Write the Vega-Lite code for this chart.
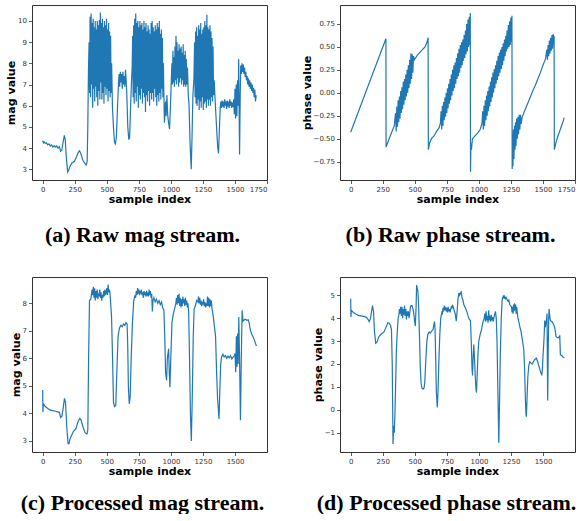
{
"$schema": "https://vega.github.io/schema/vega-lite/v6.json",
"padding": {"left": 5, "top": 4, "right": 0, "bottom": 0},
"background": "white",
"config": {
 "view": {"stroke": "#333", "strokeWidth": 1},
 "axis": {"grid": false, "domain": false, "tickColor": "#333", "tickSize": 3.5, "tickWidth": 0.8, "labelFont": "DejaVu Sans", "labelFontSize": 7, "labelColor": "#333", "labelPadding": 2, "titleFont": "DejaVu Sans", "titleFontSize": 11, "titleFontWeight": "bold", "titleColor": "black", "titlePadding": 1},
 "title": {"font": "Liberation Serif", "fontSize": 22, "fontWeight": "bold", "color": "black", "orient": "bottom", "anchor": "middle", "frame": "group"},
 "line": {"color": "#1f77b4", "strokeWidth": 1.2}
},
"datasets": {
 "a": [
{"i":0,"v":4.35},{"i":5,"v":4.25},{"i":10,"v":4.3},{"i":20,"v":4.22},{"i":30,"v":4.25},{"i":40,"v":4.15},{"i":50,"v":4.2},{"i":60,"v":4.1},{"i":70,"v":4.15},{"i":80,"v":4.05},{"i":90,"v":4.12},{"i":100,"v":4.05},{"i":110,"v":4.1},{"i":120,"v":4.0},{"i":130,"v":4.07},{"i":140,"v":3.85},{"i":150,"v":3.92},{"i":160,"v":4.3},{"i":169,"v":4.6},{"i":176,"v":4.4},{"i":184,"v":3.6},{"i":195,"v":2.87},{"i":203,"v":2.95},{"i":213,"v":3.15},{"i":228,"v":3.3},{"i":248,"v":3.38},{"i":265,"v":3.6},{"i":280,"v":3.82},{"i":288,"v":3.87},{"i":300,"v":3.7},{"i":315,"v":3.4},{"i":330,"v":3.28},{"i":339,"v":3.2},{"i":347,"v":3.35},{"i":352,"v":5.0},{"i":357,"v":7.6},
{"i":362,"v":9.0},{"i":366,"v":6.6},{"i":370,"v":10.2},{"i":374,"v":6.4},{"i":378,"v":10.35},{"i":382,"v":7.0},{"i":386,"v":9.9},{"i":390,"v":5.9},{"i":394,"v":10.1},{"i":398,"v":6.8},{"i":402,"v":9.7},{"i":406,"v":6.2},{"i":410,"v":10.0},{"i":414,"v":6.9},{"i":418,"v":9.6},{"i":422,"v":6.4},{"i":426,"v":10.0},{"i":430,"v":6.0},{"i":434,"v":9.8},{"i":438,"v":6.7},{"i":442,"v":10.05},{"i":446,"v":6.3},{"i":450,"v":10.4},{"i":454,"v":7.1},{"i":458,"v":9.9},{"i":462,"v":6.3},{"i":466,"v":10.1},{"i":470,"v":6.6},{"i":474,"v":9.7},{"i":478,"v":6.1},{"i":482,"v":10.0},{"i":486,"v":6.9},{"i":490,"v":9.8},{"i":494,"v":6.5},{"i":498,"v":10.1},{"i":502,"v":6.8},{"i":506,"v":9.6},{"i":510,"v":6.2},{"i":514,"v":9.9},{"i":518,"v":6.7},{"i":522,"v":9.5},{"i":526,"v":6.4},{"i":530,"v":9.3},{"i":534,"v":6.6},{"i":538,"v":8.0},{"i":544,"v":6.0},{"i":552,"v":5.0},{"i":560,"v":4.3},{"i":567,"v":4.2},{"i":575,"v":4.5},{"i":583,"v":5.8},{"i":591,"v":7.0},
{"i":596,"v":7.5},{"i":601,"v":6.9},{"i":606,"v":7.6},{"i":611,"v":7.1},{"i":616,"v":7.5},{"i":621,"v":6.8},{"i":626,"v":7.6},{"i":631,"v":7.0},{"i":636,"v":7.4},{"i":641,"v":6.9},{"i":646,"v":7.7},{"i":651,"v":7.2},{"i":656,"v":6.6},{"i":664,"v":5.0},{"i":672,"v":4.4},{"i":678,"v":4.5},{"i":685,"v":5.8},{"i":692,"v":7.0},{"i":698,"v":7.8},
{"i":702,"v":9.3},{"i":706,"v":6.4},{"i":710,"v":9.8},{"i":714,"v":6.1},{"i":718,"v":10.1},{"i":722,"v":6.6},{"i":726,"v":10.35},{"i":730,"v":6.2},{"i":734,"v":9.9},{"i":738,"v":6.9},{"i":742,"v":10.0},{"i":746,"v":5.9},{"i":750,"v":9.7},{"i":754,"v":6.5},{"i":758,"v":10.0},{"i":762,"v":6.3},{"i":766,"v":9.8},{"i":770,"v":6.8},{"i":774,"v":9.9},{"i":778,"v":6.1},{"i":782,"v":9.6},{"i":786,"v":6.6},{"i":790,"v":10.0},{"i":794,"v":6.4},{"i":798,"v":9.7},{"i":802,"v":5.7},{"i":806,"v":9.9},{"i":810,"v":6.5},{"i":814,"v":9.5},{"i":818,"v":6.2},{"i":822,"v":9.8},{"i":826,"v":6.7},{"i":830,"v":9.6},{"i":834,"v":6.0},{"i":838,"v":9.4},{"i":842,"v":6.6},{"i":846,"v":9.9},{"i":850,"v":6.3},{"i":854,"v":10.0},{"i":858,"v":6.6},{"i":862,"v":9.7},{"i":866,"v":6.2},{"i":870,"v":9.5},{"i":874,"v":6.8},{"i":878,"v":9.8},{"i":882,"v":6.4},{"i":886,"v":9.6},{"i":890,"v":6.0},{"i":894,"v":9.9},{"i":898,"v":6.5},{"i":902,"v":9.7},{"i":906,"v":6.2},{"i":910,"v":10.0},{"i":914,"v":6.6},{"i":918,"v":9.4},{"i":922,"v":6.3},{"i":926,"v":9.6},{"i":930,"v":6.8},{"i":934,"v":9.2},{"i":938,"v":6.4},{"i":942,"v":8.0},{"i":946,"v":6.3},{"i":950,"v":5.2},{"i":958,"v":6.2},{"i":963,"v":5.5},{"i":969,"v":6.5},{"i":975,"v":5.6},{"i":982,"v":5.2},{"i":990,"v":4.9},{"i":997,"v":6.0},{"i":1004,"v":7.3},
{"i":1008,"v":8.0},{"i":1012,"v":7.0},{"i":1016,"v":8.6},{"i":1020,"v":7.1},{"i":1024,"v":8.3},{"i":1028,"v":6.9},{"i":1032,"v":8.8},{"i":1036,"v":7.2},{"i":1040,"v":9.3},{"i":1044,"v":7.0},{"i":1048,"v":9.0},{"i":1052,"v":7.3},{"i":1056,"v":8.6},{"i":1060,"v":6.9},{"i":1064,"v":8.9},{"i":1068,"v":7.1},{"i":1072,"v":8.7},{"i":1076,"v":7.3},{"i":1080,"v":8.8},{"i":1084,"v":7.0},{"i":1088,"v":8.5},{"i":1092,"v":7.2},{"i":1096,"v":8.9},{"i":1100,"v":6.9},{"i":1104,"v":8.4},{"i":1108,"v":7.0},{"i":1112,"v":8.6},{"i":1116,"v":6.9},{"i":1120,"v":8.2},{"i":1125,"v":7.0},{"i":1130,"v":7.8},{"i":1135,"v":6.6},{"i":1142,"v":6.0},{"i":1150,"v":4.2},{"i":1159,"v":3.0},{"i":1165,"v":4.5},{"i":1172,"v":6.5},{"i":1180,"v":7.3},
{"i":1185,"v":9.0},{"i":1189,"v":6.4},{"i":1193,"v":9.5},{"i":1197,"v":6.1},{"i":1201,"v":9.7},{"i":1205,"v":6.0},{"i":1209,"v":9.3},{"i":1213,"v":6.3},{"i":1217,"v":9.8},{"i":1221,"v":5.8},{"i":1225,"v":9.6},{"i":1229,"v":6.2},{"i":1233,"v":9.9},{"i":1237,"v":5.9},{"i":1241,"v":9.4},{"i":1245,"v":6.4},{"i":1249,"v":9.6},{"i":1253,"v":5.8},{"i":1257,"v":9.7},{"i":1261,"v":6.1},{"i":1265,"v":10.0},{"i":1269,"v":6.2},{"i":1273,"v":9.8},{"i":1277,"v":5.9},{"i":1281,"v":10.3},{"i":1285,"v":6.3},{"i":1289,"v":9.7},{"i":1293,"v":6.0},{"i":1297,"v":9.6},{"i":1301,"v":6.3},{"i":1305,"v":9.8},{"i":1309,"v":6.0},{"i":1313,"v":9.5},{"i":1317,"v":6.4},{"i":1321,"v":9.2},{"i":1325,"v":6.2},{"i":1329,"v":8.8},{"i":1333,"v":6.5},{"i":1338,"v":7.2},{"i":1345,"v":6.3},{"i":1352,"v":5.5},{"i":1360,"v":4.6},{"i":1366,"v":4.0},{"i":1372,"v":3.75},{"i":1378,"v":4.8},{"i":1385,"v":5.9},{"i":1390,"v":6.2},
{"i":1395,"v":5.9},{"i":1400,"v":6.25},{"i":1405,"v":5.95},{"i":1410,"v":6.2},{"i":1415,"v":5.9},{"i":1420,"v":6.3},{"i":1425,"v":6.0},{"i":1430,"v":6.2},{"i":1435,"v":5.85},{"i":1440,"v":6.25},{"i":1445,"v":5.95},{"i":1450,"v":6.2},{"i":1455,"v":5.9},{"i":1460,"v":6.3},{"i":1465,"v":6.0},{"i":1470,"v":6.2},{"i":1475,"v":5.9},{"i":1480,"v":6.15},{"i":1485,"v":5.95},{"i":1490,"v":6.3},{"i":1495,"v":5.6},{"i":1500,"v":6.8},{"i":1505,"v":5.4},{"i":1510,"v":7.0},{"i":1515,"v":5.5},{"i":1520,"v":7.2},{"i":1525,"v":6.0},{"i":1529,"v":8.2},{"i":1533,"v":5.5},{"i":1536,"v":3.7},{"i":1541,"v":6.5},{"i":1545,"v":7.9},{"i":1550,"v":7.5},{"i":1555,"v":8.0},{"i":1560,"v":7.6},{"i":1565,"v":7.95},{"i":1570,"v":7.5},{"i":1575,"v":7.8},{"i":1580,"v":7.35},{"i":1585,"v":7.6},{"i":1590,"v":7.2},{"i":1595,"v":7.4},{"i":1600,"v":7.0},{"i":1605,"v":7.3},{"i":1610,"v":6.9},{"i":1615,"v":7.2},{"i":1620,"v":6.8},{"i":1625,"v":7.1},{"i":1630,"v":6.7},{"i":1635,"v":7.0},{"i":1640,"v":6.6},{"i":1645,"v":6.85},{"i":1650,"v":6.4},{"i":1655,"v":6.75},{"i":1660,"v":6.2},{"i":1666,"v":6.5}
 ],
 "b": [
{"i":0,"v":-0.43},{"i":140,"v":0.09},{"i":275,"v":0.59},{"i":276,"v":-0.59},{"i":300,"v":-0.5},{"i":320,"v":-0.43},{"i":340,"v":-0.36},
{"i":350,"v":-0.22},{"i":355,"v":-0.42},{"i":360,"v":-0.15},{"i":365,"v":-0.37},{"i":370,"v":-0.08},{"i":375,"v":-0.32},{"i":380,"v":-0.04},{"i":385,"v":-0.28},{"i":390,"v":0.02},{"i":395,"v":-0.22},{"i":400,"v":0.06},{"i":405,"v":-0.18},{"i":410,"v":0.12},{"i":415,"v":-0.13},{"i":420,"v":0.15},{"i":425,"v":-0.08},{"i":430,"v":0.2},{"i":435,"v":-0.04},{"i":440,"v":0.25},{"i":445,"v":0.0},{"i":450,"v":0.3},{"i":455,"v":0.05},{"i":460,"v":0.36},{"i":465,"v":0.1},{"i":470,"v":0.43},{"i":475,"v":0.15},{"i":480,"v":0.42},{"i":485,"v":0.22},{"i":490,"v":0.4},{"i":497,"v":0.36},
{"i":520,"v":0.41},{"i":540,"v":0.44},{"i":560,"v":0.47},{"i":580,"v":0.5},{"i":595,"v":0.55},{"i":604,"v":0.6},{"i":606,"v":-0.62},{"i":615,"v":-0.55},{"i":630,"v":-0.5},{"i":650,"v":-0.47},{"i":670,"v":-0.42},{"i":690,"v":-0.38},{"i":700,"v":-0.33},
{"i":705,"v":-0.2},{"i":710,"v":-0.4},{"i":715,"v":-0.14},{"i":720,"v":-0.36},{"i":725,"v":-0.1},{"i":730,"v":-0.3},{"i":735,"v":-0.05},{"i":740,"v":-0.26},{"i":745,"v":0.0},{"i":750,"v":-0.22},{"i":755,"v":0.05},{"i":760,"v":-0.17},{"i":765,"v":0.1},{"i":770,"v":-0.12},{"i":775,"v":0.15},{"i":780,"v":-0.08},{"i":785,"v":0.2},{"i":790,"v":-0.03},{"i":795,"v":0.25},{"i":800,"v":0.02},{"i":805,"v":0.3},{"i":810,"v":0.05},{"i":815,"v":0.33},{"i":820,"v":0.1},{"i":825,"v":0.38},{"i":830,"v":0.15},{"i":835,"v":0.43},{"i":840,"v":0.18},{"i":845,"v":0.48},{"i":850,"v":0.22},{"i":855,"v":0.52},{"i":860,"v":0.27},{"i":865,"v":0.55},{"i":870,"v":0.3},{"i":875,"v":0.58},{"i":880,"v":0.35},{"i":885,"v":0.63},{"i":890,"v":0.38},{"i":895,"v":0.68},{"i":900,"v":0.42},{"i":905,"v":0.75},{"i":910,"v":0.45},{"i":915,"v":0.8},{"i":920,"v":0.5},{"i":925,"v":0.83},{"i":930,"v":0.52},{"i":933,"v":0.87},
{"i":935,"v":-0.86},{"i":938,"v":-0.55},{"i":942,"v":-0.62},{"i":950,"v":-0.5},{"i":970,"v":-0.47},{"i":990,"v":-0.44},{"i":1010,"v":-0.4},{"i":1025,"v":-0.33},
{"i":1030,"v":-0.2},{"i":1035,"v":-0.4},{"i":1040,"v":-0.14},{"i":1045,"v":-0.36},{"i":1050,"v":-0.08},{"i":1055,"v":-0.3},{"i":1060,"v":-0.03},{"i":1065,"v":-0.25},{"i":1070,"v":0.02},{"i":1075,"v":-0.2},{"i":1080,"v":0.07},{"i":1085,"v":-0.15},{"i":1090,"v":0.12},{"i":1095,"v":-0.1},{"i":1100,"v":0.17},{"i":1105,"v":-0.05},{"i":1110,"v":0.22},{"i":1115,"v":0.0},{"i":1120,"v":0.26},{"i":1125,"v":0.05},{"i":1130,"v":0.3},{"i":1135,"v":0.1},{"i":1140,"v":0.35},{"i":1145,"v":0.14},{"i":1150,"v":0.4},{"i":1155,"v":0.18},{"i":1160,"v":0.44},{"i":1165,"v":0.22},{"i":1170,"v":0.47},{"i":1175,"v":0.26},{"i":1180,"v":0.5},{"i":1185,"v":0.3},{"i":1190,"v":0.54},{"i":1195,"v":0.35},{"i":1200,"v":0.58},{"i":1205,"v":0.4},{"i":1210,"v":0.62},{"i":1215,"v":0.45},{"i":1220,"v":0.68},{"i":1225,"v":0.48},{"i":1230,"v":0.74},{"i":1235,"v":0.5},{"i":1240,"v":0.78},{"i":1245,"v":0.52},{"i":1250,"v":0.82},{"i":1255,"v":0.55},{"i":1258,"v":0.84},
{"i":1260,"v":-0.83},{"i":1263,"v":-0.45},{"i":1266,"v":-0.8},{"i":1270,"v":-0.4},{"i":1274,"v":-0.72},{"i":1278,"v":-0.36},{"i":1282,"v":-0.62},{"i":1286,"v":-0.32},{"i":1290,"v":-0.58},{"i":1295,"v":-0.28},{"i":1300,"v":-0.5},{"i":1305,"v":-0.26},{"i":1310,"v":-0.45},{"i":1315,"v":-0.24},{"i":1320,"v":-0.4},{"i":1325,"v":-0.24},{"i":1330,"v":-0.34},{"i":1337,"v":-0.27},{"i":1350,"v":-0.22},{"i":1380,"v":-0.12},{"i":1400,"v":-0.05},{"i":1420,"v":0.02},{"i":1440,"v":0.08},{"i":1460,"v":0.15},{"i":1480,"v":0.22},{"i":1500,"v":0.3},{"i":1520,"v":0.37},{"i":1530,"v":0.47},{"i":1535,"v":0.36},{"i":1540,"v":0.52},{"i":1545,"v":0.4},{"i":1550,"v":0.57},{"i":1555,"v":0.43},{"i":1560,"v":0.6},{"i":1565,"v":0.46},{"i":1570,"v":0.63},{"i":1575,"v":0.48},{"i":1580,"v":0.64},{"i":1585,"v":0.53},{"i":1587,"v":0.62},{"i":1589,"v":-0.62},{"i":1600,"v":-0.55},{"i":1610,"v":-0.5},{"i":1620,"v":-0.46},{"i":1630,"v":-0.42},{"i":1640,"v":-0.38},{"i":1650,"v":-0.34},{"i":1660,"v":-0.3},{"i":1666,"v":-0.27}
 ],
 "c": [
{"i":0,"v":4.85},{"i":2,"v":4.05},{"i":5,"v":4.35},{"i":20,"v":4.25},{"i":40,"v":4.18},{"i":60,"v":4.12},{"i":80,"v":4.1},{"i":100,"v":4.08},{"i":120,"v":4.05},{"i":130,"v":4.05},{"i":140,"v":3.85},{"i":150,"v":3.9},{"i":160,"v":4.2},{"i":170,"v":4.55},{"i":178,"v":4.4},{"i":188,"v":3.5},{"i":198,"v":2.9},{"i":205,"v":2.9},{"i":215,"v":3.1},{"i":240,"v":3.35},{"i":260,"v":3.45},{"i":275,"v":3.7},{"i":290,"v":3.82},{"i":300,"v":3.75},{"i":315,"v":3.5},{"i":330,"v":3.3},{"i":345,"v":3.25},{"i":352,"v":3.4},{"i":358,"v":6.0},{"i":365,"v":8.1},{"i":375,"v":8.15},{"i":385,"v":8.5},{"i":390,"v":8.3},{"i":395,"v":8.6},{"i":400,"v":8.2},{"i":405,"v":8.55},{"i":410,"v":8.1},{"i":415,"v":8.45},{"i":420,"v":8.2},{"i":425,"v":8.5},{"i":430,"v":8.15},{"i":435,"v":8.35},{"i":440,"v":8.25},{"i":445,"v":8.5},{"i":450,"v":8.2},{"i":455,"v":8.4},{"i":460,"v":8.1},{"i":465,"v":8.3},{"i":470,"v":8.2},{"i":475,"v":8.45},{"i":480,"v":8.25},{"i":485,"v":8.5},{"i":490,"v":8.3},{"i":495,"v":8.4},{"i":500,"v":8.55},{"i":505,"v":8.3},{"i":510,"v":8.68},{"i":515,"v":8.4},{"i":520,"v":8.5},{"i":525,"v":8.35},{"i":530,"v":8.0},{"i":537,"v":7.5},{"i":545,"v":6.0},{"i":552,"v":4.4},{"i":560,"v":4.25},{"i":570,"v":4.3},{"i":578,"v":5.5},{"i":588,"v":6.8},{"i":598,"v":7.1},{"i":610,"v":7.2},{"i":620,"v":7.15},{"i":630,"v":7.25},{"i":640,"v":7.2},{"i":650,"v":7.3},{"i":658,"v":7.25},{"i":663,"v":6.5},{"i":668,"v":5.0},{"i":675,"v":4.35},{"i":682,"v":4.6},{"i":690,"v":6.0},{"i":700,"v":7.3},{"i":710,"v":8.1},{"i":720,"v":8.3},{"i":725,"v":8.2},{"i":730,"v":8.45},{"i":735,"v":8.3},{"i":740,"v":8.55},{"i":745,"v":8.35},{"i":750,"v":8.5},{"i":755,"v":8.3},{"i":760,"v":8.45},{"i":765,"v":8.35},{"i":770,"v":8.5},{"i":775,"v":8.3},{"i":780,"v":8.4},{"i":785,"v":8.2},{"i":790,"v":8.45},{"i":795,"v":8.3},{"i":800,"v":8.4},{"i":805,"v":8.25},{"i":810,"v":8.45},{"i":815,"v":8.3},{"i":820,"v":8.35},{"i":825,"v":8.25},{"i":830,"v":8.5},{"i":835,"v":8.3},{"i":840,"v":8.45},{"i":845,"v":8.2},{"i":850,"v":8.35},{"i":855,"v":7.7},{"i":860,"v":8.1},{"i":867,"v":8.2},{"i":877,"v":8.05},{"i":887,"v":8.15},{"i":897,"v":8.0},{"i":907,"v":8.1},{"i":917,"v":7.95},{"i":927,"v":8.05},{"i":935,"v":7.85},{"i":945,"v":7.75},{"i":952,"v":6.8},{"i":958,"v":5.5},{"i":966,"v":5.2},{"i":972,"v":6.0},{"i":982,"v":6.35},{"i":987,"v":5.5},{"i":992,"v":4.95},{"i":999,"v":6.0},{"i":1008,"v":7.3},{"i":1018,"v":7.6},{"i":1028,"v":7.8},{"i":1038,"v":8.0},{"i":1043,"v":8.2},{"i":1048,"v":7.95},{"i":1053,"v":8.3},{"i":1058,"v":8.0},{"i":1063,"v":8.35},{"i":1068,"v":7.9},{"i":1073,"v":8.2},{"i":1078,"v":7.85},{"i":1083,"v":8.15},{"i":1088,"v":7.9},{"i":1093,"v":8.25},{"i":1098,"v":8.0},{"i":1103,"v":8.15},{"i":1108,"v":7.9},{"i":1113,"v":8.2},{"i":1118,"v":7.95},{"i":1123,"v":8.1},{"i":1128,"v":7.85},{"i":1133,"v":8.0},{"i":1138,"v":7.7},{"i":1145,"v":6.0},{"i":1152,"v":4.0},{"i":1159,"v":3.0},{"i":1166,"v":4.5},{"i":1174,"v":6.8},{"i":1181,"v":7.8},{"i":1190,"v":7.9},{"i":1200,"v":8.1},{"i":1210,"v":8.05},{"i":1215,"v":8.25},{"i":1220,"v":8.0},{"i":1225,"v":8.2},{"i":1230,"v":7.95},{"i":1235,"v":8.1},{"i":1240,"v":7.9},{"i":1245,"v":8.05},{"i":1250,"v":7.95},{"i":1255,"v":8.15},{"i":1260,"v":7.9},{"i":1265,"v":8.05},{"i":1270,"v":7.85},{"i":1275,"v":8.0},{"i":1280,"v":7.9},{"i":1285,"v":8.25},{"i":1290,"v":7.9},{"i":1295,"v":8.2},{"i":1300,"v":7.85},{"i":1305,"v":8.15},{"i":1310,"v":7.9},{"i":1315,"v":8.1},{"i":1320,"v":7.8},{"i":1328,"v":7.6},{"i":1338,"v":7.2},{"i":1348,"v":6.8},{"i":1356,"v":5.5},{"i":1364,"v":4.5},{"i":1375,"v":3.8},{"i":1381,"v":4.8},{"i":1388,"v":5.8},{"i":1395,"v":6.05},{"i":1405,"v":6.15},{"i":1415,"v":6.05},{"i":1425,"v":6.1},{"i":1435,"v":6.0},{"i":1445,"v":6.08},{"i":1455,"v":6.02},{"i":1465,"v":6.1},{"i":1475,"v":5.98},{"i":1485,"v":6.05},{"i":1495,"v":6.1},{"i":1500,"v":6.18},{"i":1505,"v":5.5},{"i":1510,"v":6.8},{"i":1515,"v":5.7},{"i":1520,"v":6.9},{"i":1524,"v":5.8},{"i":1529,"v":7.5},{"i":1535,"v":6.0},{"i":1542,"v":3.75},{"i":1548,"v":5.8},{"i":1555,"v":7.75},{"i":1562,"v":7.35},{"i":1572,"v":7.4},{"i":1582,"v":7.42},{"i":1592,"v":7.38},{"i":1602,"v":7.4},{"i":1610,"v":7.3},{"i":1618,"v":7.05},{"i":1628,"v":6.9},{"i":1638,"v":6.8},{"i":1648,"v":6.7},{"i":1657,"v":6.58},{"i":1666,"v":6.45}
 ],
 "d": [
{"i":0,"v":4.85},{"i":2,"v":4.05},{"i":5,"v":4.35},{"i":20,"v":4.25},{"i":40,"v":4.18},{"i":60,"v":4.12},{"i":80,"v":4.1},{"i":100,"v":4.08},{"i":120,"v":4.05},{"i":135,"v":3.95},{"i":145,"v":3.85},{"i":155,"v":4.0},{"i":163,"v":4.3},{"i":170,"v":4.55},{"i":178,"v":4.3},{"i":186,"v":3.4},{"i":195,"v":2.9},{"i":205,"v":2.95},{"i":220,"v":3.2},{"i":240,"v":3.32},{"i":260,"v":3.4},{"i":275,"v":3.6},{"i":290,"v":3.8},{"i":300,"v":3.78},{"i":310,"v":3.7},{"i":318,"v":3.5},{"i":324,"v":2.0},{"i":330,"v":-1.5},{"i":335,"v":-0.7},{"i":340,"v":-1.0},{"i":345,"v":-0.2},{"i":350,"v":1.0},{"i":356,"v":2.5},{"i":362,"v":3.3},{"i":370,"v":4.0},{"i":375,"v":4.1},{"i":380,"v":4.4},{"i":385,"v":4.2},{"i":390,"v":4.5},{"i":395,"v":4.1},{"i":400,"v":4.5},{"i":405,"v":4.0},{"i":410,"v":4.4},{"i":415,"v":4.15},{"i":420,"v":4.55},{"i":425,"v":4.1},{"i":430,"v":4.4},{"i":435,"v":3.95},{"i":440,"v":4.3},{"i":445,"v":4.1},{"i":450,"v":4.3},{"i":455,"v":4.0},{"i":460,"v":4.2},{"i":465,"v":4.45},{"i":470,"v":4.55},{"i":478,"v":4.55},{"i":486,"v":4.4},{"i":492,"v":4.2},{"i":498,"v":3.9},{"i":504,"v":3.65},{"i":510,"v":4.5},{"i":514,"v":5.45},{"i":519,"v":5.3},{"i":524,"v":5.2},{"i":530,"v":4.5},{"i":536,"v":3.3},{"i":542,"v":2.0},{"i":548,"v":1.2},{"i":555,"v":0.95},{"i":565,"v":0.9},{"i":572,"v":0.95},{"i":578,"v":1.2},{"i":586,"v":2.2},{"i":594,"v":3.0},{"i":602,"v":3.3},{"i":612,"v":3.4},{"i":622,"v":3.35},{"i":632,"v":3.45},{"i":642,"v":3.5},{"i":648,"v":3.7},{"i":654,"v":3.85},{"i":658,"v":3.5},{"i":663,"v":2.2},{"i":668,"v":0.8},{"i":675,"v":0.1},{"i":681,"v":0.8},{"i":688,"v":2.2},{"i":695,"v":3.3},{"i":702,"v":4.0},{"i":710,"v":4.25},{"i":715,"v":4.2},{"i":720,"v":4.45},{"i":725,"v":4.3},{"i":730,"v":4.55},{"i":735,"v":4.35},{"i":740,"v":4.5},{"i":745,"v":4.3},{"i":750,"v":4.45},{"i":755,"v":4.25},{"i":760,"v":4.5},{"i":765,"v":4.3},{"i":770,"v":4.4},{"i":775,"v":4.25},{"i":780,"v":4.4},{"i":785,"v":4.5},{"i":790,"v":4.45},{"i":795,"v":4.55},{"i":800,"v":4.5},{"i":808,"v":4.3},{"i":815,"v":4.2},{"i":823,"v":3.87},{"i":830,"v":4.3},{"i":836,"v":4.8},{"i":843,"v":5.1},{"i":850,"v":5.0},{"i":856,"v":5.1},{"i":862,"v":5.15},{"i":868,"v":4.9},{"i":875,"v":4.8},{"i":882,"v":4.6},{"i":890,"v":4.5},{"i":898,"v":4.4},{"i":905,"v":4.3},{"i":915,"v":4.1},{"i":925,"v":3.95},{"i":934,"v":3.9},{"i":940,"v":3.0},{"i":946,"v":1.8},{"i":950,"v":1.5},{"i":955,"v":2.3},{"i":960,"v":2.85},{"i":966,"v":2.2},{"i":972,"v":1.4},{"i":977,"v":0.9},{"i":981,"v":0.75},{"i":987,"v":1.6},{"i":993,"v":2.5},{"i":999,"v":3.0},{"i":1010,"v":3.3},{"i":1020,"v":3.5},{"i":1030,"v":3.8},{"i":1041,"v":4.0},{"i":1046,"v":4.2},{"i":1051,"v":3.85},{"i":1056,"v":4.3},{"i":1061,"v":3.9},{"i":1066,"v":4.1},{"i":1071,"v":3.8},{"i":1076,"v":4.35},{"i":1081,"v":3.9},{"i":1086,"v":4.1},{"i":1091,"v":3.85},{"i":1096,"v":4.15},{"i":1101,"v":3.9},{"i":1106,"v":4.05},{"i":1111,"v":3.85},{"i":1116,"v":4.0},{"i":1122,"v":4.15},{"i":1129,"v":4.3},{"i":1135,"v":4.0},{"i":1141,"v":3.0},{"i":1147,"v":1.0},{"i":1155,"v":-1.45},{"i":1161,"v":0.5},{"i":1167,"v":2.5},{"i":1174,"v":4.0},{"i":1181,"v":4.8},{"i":1191,"v":5.0},{"i":1196,"v":4.85},{"i":1201,"v":4.95},{"i":1207,"v":4.85},{"i":1213,"v":4.9},{"i":1220,"v":4.8},{"i":1226,"v":4.75},{"i":1233,"v":4.8},{"i":1240,"v":4.6},{"i":1246,"v":4.55},{"i":1254,"v":4.5},{"i":1258,"v":4.25},{"i":1262,"v":4.5},{"i":1266,"v":4.2},{"i":1270,"v":4.6},{"i":1274,"v":4.3},{"i":1278,"v":4.65},{"i":1282,"v":4.35},{"i":1286,"v":4.6},{"i":1290,"v":4.2},{"i":1294,"v":4.5},{"i":1298,"v":4.3},{"i":1304,"v":4.0},{"i":1311,"v":3.85},{"i":1320,"v":3.6},{"i":1329,"v":3.4},{"i":1340,"v":3.0},{"i":1350,"v":2.6},{"i":1356,"v":1.8},{"i":1362,"v":0.5},{"i":1367,"v":-0.2},{"i":1370,"v":-0.3},{"i":1375,"v":0.5},{"i":1381,"v":1.4},{"i":1388,"v":1.9},{"i":1396,"v":2.1},{"i":1405,"v":2.05},{"i":1415,"v":2.0},{"i":1425,"v":2.1},{"i":1435,"v":2.2},{"i":1448,"v":2.25},{"i":1458,"v":2.1},{"i":1468,"v":1.9},{"i":1478,"v":1.7},{"i":1490,"v":1.5},{"i":1495,"v":1.8},{"i":1500,"v":2.4},{"i":1505,"v":2.85},{"i":1509,"v":3.3},{"i":1513,"v":3.9},{"i":1518,"v":3.6},{"i":1523,"v":3.8},{"i":1528,"v":4.0},{"i":1531,"v":4.2},{"i":1533,"v":2.5},{"i":1536,"v":0.4},{"i":1540,"v":2.5},{"i":1544,"v":4.0},{"i":1547,"v":4.4},{"i":1552,"v":4.1},{"i":1557,"v":3.9},{"i":1570,"v":3.85},{"i":1580,"v":3.75},{"i":1591,"v":3.6},{"i":1596,"v":3.4},{"i":1601,"v":3.2},{"i":1612,"v":3.15},{"i":1622,"v":3.15},{"i":1630,"v":3.25},{"i":1635,"v":2.4},{"i":1645,"v":2.38},{"i":1655,"v":2.3},{"i":1666,"v":2.27}
 ]
},
"concat": [
 {
  "data": {"name": "a"}, "width": 235, "height": 175,
  "title": {"text": "(a) Raw mag stream.", "offset": 20, "dx": -7},
  "mark": {"type": "line"},
  "encoding": {
   "x": {"field": "i", "type": "quantitative", "scale": {"domain": [-83.3, 1750], "nice": false, "zero": false}, "axis": {"values": [0,250,500,750,1000,1250,1500,1750], "format": "d", "title": "sample index"}},
   "y": {"field": "v", "type": "quantitative", "scale": {"domain": [2.495, 10.755], "nice": false, "zero": false}, "axis": {"values": [3,4,5,6,7,8,9,10], "title": "mag value"}}
  }
 },
 {
  "data": {"name": "b"}, "width": 235, "height": 175,
  "title": {"text": "(b) Raw phase stream.", "offset": 20, "dx": -7},
  "mark": {"type": "line"},
  "encoding": {
   "x": {"field": "i", "type": "quantitative", "scale": {"domain": [-83.3, 1750], "nice": false, "zero": false}, "axis": {"values": [0,250,500,750,1000,1250,1500,1750], "format": "d", "title": "sample index"}},
   "y": {"field": "v", "type": "quantitative", "scale": {"domain": [-0.95, 0.957], "nice": false, "zero": false}, "axis": {"values": [-0.75,-0.5,-0.25,0,0.25,0.5,0.75], "format": ".2f", "title": "phase value"}}
  }
 },
 {
  "data": {"name": "c"}, "width": 235, "height": 175,
  "title": {"text": "(c) Processed mag stream.", "offset": 16, "dx": -7},
  "mark": {"type": "line"},
  "encoding": {
   "x": {"field": "i", "type": "quantitative", "scale": {"domain": [-83.3, 1749], "nice": false, "zero": false}, "axis": {"values": [0,250,500,750,1000,1250,1500], "format": "d", "title": "sample index"}},
   "y": {"field": "v", "type": "quantitative", "scale": {"domain": [2.6, 8.956], "nice": false, "zero": false}, "axis": {"values": [3,4,5,6,7,8], "title": "mag value"}}
  }
 },
 {
  "data": {"name": "d"}, "width": 235, "height": 175,
  "title": {"text": "(d) Processed phase stream.", "offset": 16, "dx": -11},
  "mark": {"type": "line"},
  "encoding": {
   "x": {"field": "i", "type": "quantitative", "scale": {"domain": [-83.3, 1749], "nice": false, "zero": false}, "axis": {"values": [0,250,500,750,1000,1250,1500], "format": "d", "title": "sample index"}},
   "y": {"field": "v", "type": "quantitative", "scale": {"domain": [-1.845, 5.8], "nice": false, "zero": false}, "axis": {"values": [-1,0,1,2,3,4,5], "title": "phase value"}}
  }
 }
],
"columns": 2,
"spacing": {"row": 97, "column": 73},
"bounds": "flush"
}
